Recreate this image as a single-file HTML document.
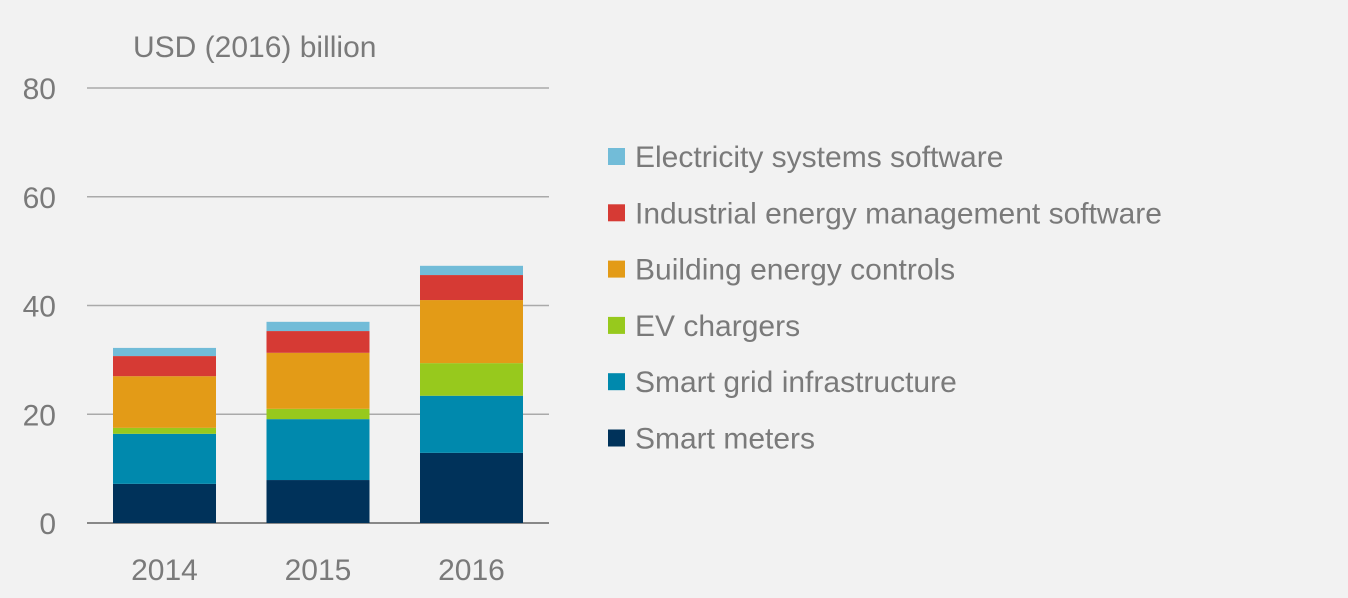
<!DOCTYPE html>
<html><head><meta charset="utf-8"><style>
html,body{margin:0;padding:0;background:#f2f2f2;}
svg{display:block;font-family:"Liberation Sans",sans-serif;}
</style></head><body>
<svg id="chart" width="1348" height="598">
<rect width="1348" height="598" fill="#f2f2f2"/>
<text x="133" y="57" font-size="30" fill="#7a7a7a">USD (2016) billion</text>
<g id="grid"></g><g id="bars"></g><g id="legend"></g>
</svg>
<script>
const categories=["2014","2015","2016"];
const seriesNames=["Smart meters","Smart grid infrastructure","EV chargers","Building energy controls","Industrial energy management software","Electricity systems software"];
const smartMeters=[7.2,7.9,12.9];
const smartGrid=[9.2,11.2,10.5];
const evChargers=[1.1,1.9,6.0];
const buildingControls=[9.5,10.3,11.6];
const industrialSoftware=[3.7,4.0,4.6];
const electricitySoftware=[1.5,1.7,1.7];
const yTicks=[0,20,40,60,80];
const colors=["#00325a","#0089ad","#97c91d","#e39b17","#d63a34","#72bcd8"];
const series=[smartMeters,smartGrid,evChargers,buildingControls,industrialSoftware,electricitySoftware];
const NS="http://www.w3.org/2000/svg";
const y0=523,y80=88;
const y=v=>y0-(v/80)*(y0-y80);
const x=i=>113+i*153.5;
const bw=103;
function mk(t,a,p){const e=document.createElementNS(NS,t);for(const k in a)e.setAttribute(k,a[k]);p.appendChild(e);return e;}
const grid=document.getElementById('grid');
yTicks.forEach(t=>{
 const l=mk('line',{x1:87,x2:549,y1:y(t),y2:y(t),stroke:t===0?'#888':'#aaa','stroke-width':t===0?2:1.5},grid);
 
 
 const tx=mk('text',{x:56,y:y(t)+11,'font-size':30,fill:'#7a7a7a','text-anchor':'end'},grid);
 tx.textContent=t;
 
 
});
const bars=document.getElementById('bars');
categories.forEach((c,i)=>{
 let cum=0;
 series.forEach((s,k)=>{
  const r=mk('rect',{x:x(i),y:y(cum+s[i]),width:bw,height:y(cum)-y(cum+s[i]),fill:colors[k]},bars);
  
  
  cum+=s[i];
 });
 const tx=mk('text',{x:x(i)+bw/2,y:580,'font-size':30,fill:'#7a7a7a','text-anchor':'middle'},bars);
 tx.textContent=c;
 
 
});
const leg=document.getElementById('legend');
for(let k=5;k>=0;k--){
 const row=5-k, cy=156+row*56.3;
 const g=mk('g',{},leg);
 
 
 mk('rect',{x:608,y:cy-8,width:17,height:17,fill:colors[k]},g);
 const t=mk('text',{x:635,y:cy+11,'font-size':30,fill:'#7a7a7a'},g);
 t.textContent=seriesNames[k];
}
</script>
</body></html>
